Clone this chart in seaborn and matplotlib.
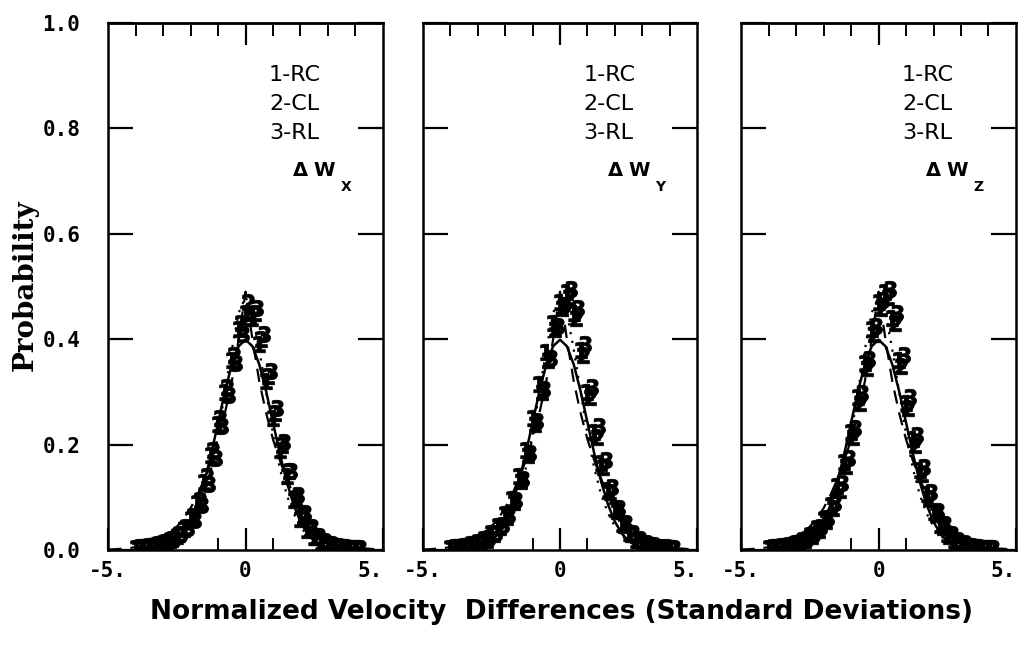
import numpy as np
import pandas as pd
import seaborn as sns
import matplotlib.pyplot as plt
from matplotlib.ticker import FixedLocator

# x positions of the plotted digits (standard deviations)
x_pts = [-4.0, -3.75, -3.5, -3.25, -3.0, -2.75, -2.5, -2.25, -2.0, -1.75, -1.5,
         -1.25, -1.0, -0.75, -0.5, -0.25, 0.0, 0.25, 0.5, 0.75, 1.0, 1.25, 1.5,
         1.75, 2.0, 2.25, 2.5, 2.75, 3.0, 3.25, 3.5, 3.75, 4.0]

# panel dWx
wx_rc = [0.005, 0.006, 0.008, 0.010, 0.014, 0.020, 0.028, 0.040, 0.060, 0.090, 0.130,
         0.180, 0.240, 0.300, 0.360, 0.420, 0.450, 0.440, 0.390, 0.320, 0.250, 0.190,
         0.140, 0.095, 0.060, 0.038, 0.025, 0.016, 0.011, 0.008, 0.006, 0.005, 0.004]
wx_cl = [0.004, 0.006, 0.007, 0.011, 0.015, 0.022, 0.030, 0.045, 0.065, 0.095, 0.140,
         0.190, 0.250, 0.310, 0.370, 0.430, 0.470, 0.450, 0.400, 0.330, 0.260, 0.200,
         0.150, 0.100, 0.065, 0.040, 0.026, 0.017, 0.012, 0.009, 0.007, 0.005, 0.004]
wx_rl = [0.006, 0.007, 0.009, 0.012, 0.016, 0.021, 0.030, 0.042, 0.058, 0.085, 0.125,
         0.175, 0.235, 0.295, 0.355, 0.410, 0.440, 0.460, 0.410, 0.340, 0.270, 0.205,
         0.150, 0.105, 0.070, 0.045, 0.028, 0.018, 0.012, 0.009, 0.007, 0.005, 0.005]

# panel dWy
wy_rc = [0.005, 0.006, 0.008, 0.011, 0.015, 0.022, 0.032, 0.046, 0.068, 0.098, 0.140,
         0.190, 0.250, 0.315, 0.375, 0.430, 0.470, 0.490, 0.450, 0.380, 0.300, 0.225,
         0.165, 0.115, 0.078, 0.050, 0.032, 0.020, 0.013, 0.009, 0.007, 0.005, 0.004]
wy_cl = [0.004, 0.005, 0.007, 0.010, 0.014, 0.020, 0.030, 0.044, 0.064, 0.092, 0.132,
         0.180, 0.240, 0.300, 0.360, 0.420, 0.460, 0.480, 0.440, 0.370, 0.290, 0.215,
         0.158, 0.110, 0.074, 0.047, 0.030, 0.019, 0.012, 0.009, 0.006, 0.005, 0.004]
wy_rl = [0.006, 0.007, 0.009, 0.012, 0.016, 0.023, 0.033, 0.047, 0.066, 0.095, 0.136,
         0.185, 0.245, 0.305, 0.365, 0.425, 0.465, 0.495, 0.460, 0.390, 0.310, 0.235,
         0.172, 0.120, 0.080, 0.052, 0.033, 0.021, 0.014, 0.010, 0.007, 0.006, 0.005]

# panel dWz
wz_rc = [0.005, 0.006, 0.008, 0.010, 0.014, 0.020, 0.029, 0.042, 0.060, 0.086, 0.122,
         0.168, 0.225, 0.290, 0.355, 0.420, 0.470, 0.490, 0.440, 0.360, 0.280, 0.210,
         0.152, 0.106, 0.072, 0.047, 0.030, 0.019, 0.013, 0.009, 0.007, 0.005, 0.004]
wz_cl = [0.004, 0.005, 0.007, 0.009, 0.013, 0.019, 0.027, 0.039, 0.056, 0.080, 0.115,
         0.160, 0.215, 0.280, 0.345, 0.410, 0.460, 0.480, 0.430, 0.350, 0.270, 0.200,
         0.145, 0.100, 0.068, 0.044, 0.028, 0.018, 0.012, 0.008, 0.006, 0.005, 0.004]
wz_rl = [0.006, 0.007, 0.009, 0.011, 0.015, 0.021, 0.030, 0.044, 0.062, 0.090, 0.128,
         0.175, 0.232, 0.298, 0.362, 0.425, 0.475, 0.495, 0.450, 0.370, 0.290, 0.218,
         0.158, 0.110, 0.075, 0.049, 0.031, 0.020, 0.013, 0.009, 0.007, 0.005, 0.004]

# reference curves
x_curve = [-5.0, -4.75, -4.5, -4.25, -4.0, -3.75, -3.5, -3.25, -3.0, -2.75, -2.5,
           -2.25, -2.0, -1.75, -1.5, -1.25, -1.0, -0.75, -0.5, -0.25, 0.0, 0.25,
           0.5, 0.75, 1.0, 1.25, 1.5, 1.75, 2.0, 2.25, 2.5, 2.75, 3.0, 3.25, 3.5,
           3.75, 4.0, 4.25, 4.5, 4.75, 5.0]
solid = [0.000, 0.000, 0.000, 0.000, 0.0001, 0.0004, 0.0009, 0.002, 0.0044, 0.0091,
         0.0175, 0.0317, 0.054, 0.0863, 0.1295, 0.1826, 0.242, 0.3011, 0.3521, 0.3867,
         0.399, 0.3867, 0.3521, 0.3011, 0.242, 0.1826, 0.1295, 0.0863, 0.054, 0.0317,
         0.0175, 0.0091, 0.0044, 0.002, 0.0009, 0.0004, 0.0001, 0.000, 0.000, 0.000, 0.000]
dashed = [0.0015, 0.002, 0.003, 0.004, 0.006, 0.008, 0.012, 0.017, 0.024, 0.033,
          0.045, 0.060, 0.080, 0.105, 0.135, 0.170, 0.210, 0.260, 0.320, 0.400,
          0.490, 0.400, 0.320, 0.260, 0.210, 0.170, 0.135, 0.105, 0.080, 0.060,
          0.045, 0.033, 0.024, 0.017, 0.012, 0.008, 0.006, 0.004, 0.003, 0.002, 0.0015]
dotted = [0.000, 0.000, 0.000, 0.000, 0.001, 0.001, 0.002, 0.004, 0.006, 0.010,
          0.017, 0.028, 0.045, 0.070, 0.105, 0.155, 0.220, 0.300, 0.380, 0.450,
          0.480, 0.450, 0.380, 0.300, 0.220, 0.155, 0.105, 0.070, 0.045, 0.028,
          0.017, 0.010, 0.006, 0.004, 0.002, 0.001, 0.001, 0.000, 0.000, 0.000, 0.000]

panels = [("X", wx_rc, wx_cl, wx_rl),
          ("Y", wy_rc, wy_cl, wy_rl),
          ("Z", wz_rc, wz_cl, wz_rl)]
legend_lines = ["1-RC", "2-CL", "3-RL"]

sns.set_theme(style="white")
plt.rcParams["font.family"] = ["DejaVu Sans"]
plt.rcParams["text.color"] = "black"
plt.rcParams["xtick.color"] = "black"
plt.rcParams["ytick.color"] = "black"

fig = plt.figure(figsize=(10.21, 6.63), dpi=100)
lefts = [0.106, 0.414, 0.726]
width = 0.269
bottom, height = 0.170, 0.796

curves = pd.DataFrame({"x": x_curve, "solid": solid, "dashed": dashed, "dotted": dotted})

for i, (comp, rc, cl, rl) in enumerate(panels):
    ax = fig.add_axes([lefts[i], bottom, width, height])
    pts = pd.DataFrame({"x": x_pts, "rc": rc, "cl": cl, "rl": rl})

    sns.lineplot(data=curves, x="x", y="solid", ax=ax, color="black", lw=1.8)
    sns.lineplot(data=curves, x="x", y="dashed", ax=ax, color="black", lw=1.6,
                 linestyle=(0, (6, 4)))
    sns.lineplot(data=curves, x="x", y="dotted", ax=ax, color="black", lw=1.6,
                 linestyle=(0, (1, 3)))
    for col, mk, dx in [("rc", r"$\mathbf{1}$", 0.0), ("cl", r"$\mathbf{2}$", 0.08),
                        ("rl", r"$\mathbf{3}$", 0.16)]:
        sns.scatterplot(x=pts["x"] + dx, y=pts[col], ax=ax, marker=mk, s=140,
                        color="black", linewidth=0.6, edgecolor="black")

    ax.set_xlim(-5, 5)
    ax.set_ylim(0, 1.0)
    ax.set_xlabel("")
    ax.set_ylabel("")
    for sp in ax.spines.values():
        sp.set_visible(True)
        sp.set_color("black")
        sp.set_linewidth(1.8)

    # bottom: labels at -5, 0, 5 and short inner ticks at -1, 1
    ax.set_xticks([-5, 0, 5])
    ax.set_xticklabels(["-5.", "0", "5."], fontfamily="DejaVu Sans Mono",
                       fontweight="bold", fontsize=15)
    ax.get_xticklabels()[2].set_horizontalalignment("right")
    ax.xaxis.set_minor_locator(FixedLocator([-1, 1]))
    ax.tick_params(axis="x", which="major", direction="in", length=16, width=1.6,
                   bottom=True, top=False, pad=8)
    ax.tick_params(axis="x", which="minor", direction="in", length=9, width=1.4,
                   bottom=True, top=False)

    # top: ticks every unit
    top = ax.secondary_xaxis("top")
    top.set_xticks([0])
    top.set_xticklabels([])
    top.xaxis.set_minor_locator(FixedLocator([-4, -3, -2, -1, 1, 2, 3, 4]))
    top.tick_params(axis="x", which="major", direction="in", length=16, width=1.6)
    top.tick_params(axis="x", which="minor", direction="in", length=9, width=1.4)
    top.spines["top"].set_linewidth(1.8)

    ax.set_yticks([0.0, 0.2, 0.4, 0.6, 0.8, 1.0])
    ax.tick_params(axis="y", direction="in", length=18, width=1.6, left=True,
                   right=True, pad=20)
    if i == 0:
        ax.set_yticklabels(["0.0", "0.2", "0.4", "0.6", "0.8", "1.0"],
                           fontfamily="DejaVu Sans Mono", fontweight="bold", fontsize=15)
    else:
        ax.set_yticklabels([])

    for j, t in enumerate(legend_lines):
        ax.text(0.85, 0.90 - 0.055 * j, t, fontsize=16, va="center")
    ax.text(1.7, 0.72, r"$\mathbf{\Delta}$ W", fontsize=14, fontweight="bold",
            va="center")
    ax.text(3.45, 0.688, comp, fontsize=10, fontweight="bold", va="center")

fig.text(0.025, 0.57, "Probability", rotation=90, ha="center", va="center",
         fontfamily="DejaVu Serif", fontweight="bold", fontsize=20)
fig.text(0.55, 0.077, "Normalized Velocity  Differences (Standard Deviations)",
         ha="center", va="center", fontfamily="DejaVu Sans", fontweight="bold",
         fontsize=19)

fig.savefig("out.png", dpi=100, facecolor="white")
